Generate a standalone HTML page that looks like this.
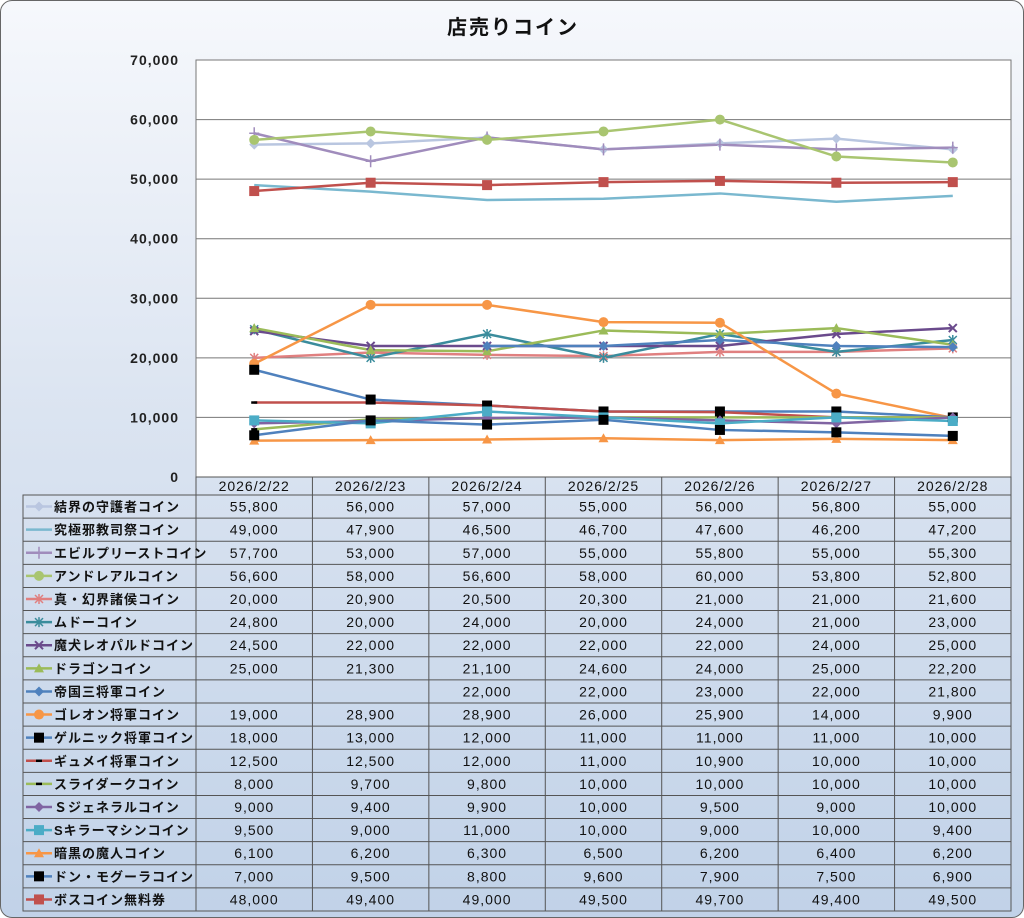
<!DOCTYPE html>
<html><head><meta charset="utf-8"><style>
html,body{margin:0;padding:0;background:#fff;}
#c{position:relative;width:1022px;height:916px;border:1px solid #666;border-radius:12px;overflow:hidden;
background:linear-gradient(to bottom,#f6f8fc 0%,#dbe4f1 45%,#c1d2e8 100%);font-family:"Liberation Sans","Noto Sans CJK JP",sans-serif;}
#t{position:absolute;top:10px;left:0;width:1024px;text-align:center;font-size:20px;font-weight:bold;color:#111;letter-spacing:2px}
svg{position:absolute;left:0;top:0}
</style></head><body><div id="c"><div id="t">店売りコイン</div>
<svg id="s" width="1024" height="918"></svg></div>
<script>
const names=["結界の守護者コイン","究極邪教司祭コイン","エビルプリーストコイン","アンドレアルコイン","真・幻界諸侯コイン","ムドーコイン","魔犬レオパルドコイン","ドラゴンコイン","帝国三将軍コイン","ゴレオン将軍コイン","ゲルニック将軍コイン","ギュメイ将軍コイン","スライダークコイン","Ｓジェネラルコイン","Sキラーマシンコイン","暗黒の魔人コイン","ドン・モグーラコイン","ボスコイン無料券"];
const d=[[55800,56000,57000,55000,56000,56800,55000],[49000,47900,46500,46700,47600,46200,47200],[57700,53000,57000,55000,55800,55000,55300],[56600,58000,56600,58000,60000,53800,52800],[20000,20900,20500,20300,21000,21000,21600],[24800,20000,24000,20000,24000,21000,23000],[24500,22000,22000,22000,22000,24000,25000],[25000,21300,21100,24600,24000,25000,22200],[null,null,22000,22000,23000,22000,21800],[19000,28900,28900,26000,25900,14000,9900],[18000,13000,12000,11000,11000,11000,10000],[12500,12500,12000,11000,10900,10000,10000],[8000,9700,9800,10000,10000,10000,10000],[9000,9400,9900,10000,9500,9000,10000],[9500,9000,11000,10000,9000,10000,9400],[6100,6200,6300,6500,6200,6400,6200],[7000,9500,8800,9600,7900,7500,6900],[48000,49400,49000,49500,49700,49400,49500]];
const col=["#b9c6e0","#7ab8cf","#a08cbc","#a9c570","#e08080","#3a8c9c","#6a4a8c","#9bbb59","#4f81bd","#f79646","#4f81bd","#c0504d","#9bbb59","#8064a2","#4bacc6","#f79646","#4f81bd","#c0504d"];
const mk=["dia","none","plus","circ","ast","ast","x","tri","dia","circ","bsq","dash","dash","dia","sq","tri","bsq","sq"];
const dates=["2026/2/22","2026/2/23","2026/2/24","2026/2/25","2026/2/26","2026/2/27","2026/2/28"];
const L=195,R=1010,T=59,B=476,cw=(R-L)/7,rh=(910-494)/18;
const X=i=>L+cw*(i+.5),Y=v=>B-v/70000*(B-T);
let h=`<rect x="${L}" y="${T}" width="${R-L}" height="${B-T}" fill="#fff" stroke="#777"/>`;
for(let k=1;k<7;k++){let y=Y(k*10000);h+=`<line x1="${L}" x2="${R}" y1="${y}" y2="${y}" stroke="#777"/>`}
for(let k=0;k<=7;k++)h+=`<text x="178" y="${Y(k*10000)+5}" text-anchor="end" font-size="14" font-weight="bold" fill="#222" letter-spacing="1">${k?(k*10)+",000":"0"}</text>`;
function marker(t,x,y,c){switch(t){
case"dia":return`<path d="M${x} ${y-5}L${x+5} ${y}L${x} ${y+5}L${x-5} ${y}Z" fill="${c}"/>`;
case"circ":return`<circle cx="${x}" cy="${y}" r="5" fill="${c}"/>`;
case"sq":return`<rect x="${x-5}" y="${y-5}" width="10" height="10" fill="${c}"/>`;
case"bsq":return`<rect x="${x-5}" y="${y-5}" width="10" height="10" fill="#000"/>`;
case"tri":return`<path d="M${x} ${y-5}L${x+5} ${y+4}L${x-5} ${y+4}Z" fill="${c}"/>`;
case"plus":return`<path d="M${x-5} ${y}H${x+5}M${x} ${y-6}V${y+6}" stroke="${c}" stroke-width="1.5"/>`;
case"x":return`<path d="M${x-4} ${y-4}L${x+4} ${y+4}M${x+4} ${y-4}L${x-4} ${y+4}" stroke="${c}" stroke-width="2"/>`;
case"ast":return`<path d="M${x-4} ${y-4}L${x+4} ${y+4}M${x+4} ${y-4}L${x-4} ${y+4}M${x} ${y-5}V${y+5}" stroke="${c}" stroke-width="1.5"/>`;
case"dash":return`<path d="M${x-3} ${y}H${x+3}" stroke="#000" stroke-width="2.5"/>`;
}return""}
d.forEach((s,j)=>{let p=[];s.forEach((v,i)=>{if(v!=null)p.push(X(i)+","+Y(v))});
h+=`<polyline points="${p.join(" ")}" fill="none" stroke="${col[j]}" stroke-width="2.5"/>`;});
d.forEach((s,j)=>s.forEach((v,i)=>{if(v!=null)h+=marker(mk[j],X(i),Y(v),col[j])}));
h+=`<g stroke="#555" stroke-width="1" fill="none"><rect x="${L}" y="${B}" width="${R-L}" height="18"/><rect x="22" y="494" width="${R-22}" height="${910-494}"/>`;
for(let i=1;i<7;i++)h+=`<line x1="${L+cw*i}" x2="${L+cw*i}" y1="${B}" y2="910"/>`;
h+=`<line x1="${L}" x2="${L}" y1="${B}" y2="910"/>`;
for(let r=1;r<18;r++)h+=`<line x1="22" x2="${R}" y1="${494+rh*r}" y2="${494+rh*r}"/>`;
h+=`</g>`;
dates.forEach((t,i)=>h+=`<text x="${X(i)}" y="${B+14}" text-anchor="middle" font-size="14" fill="#111" letter-spacing="1">${t}</text>`);
d.forEach((s,j)=>{let cy=494+rh*j+rh/2;
h+=`<line x1="25" x2="51" y1="${cy}" y2="${cy}" stroke="${col[j]}" stroke-width="2.5"/>`+marker(mk[j],38,cy,col[j]);
h+=`<text x="53" y="${cy+5}" font-size="13" font-weight="bold" fill="#111" letter-spacing="1">${names[j]}</text>`;
s.forEach((v,i)=>{if(v!=null)h+=`<text x="${X(i)}" y="${cy+5}" text-anchor="middle" font-size="14" fill="#111" letter-spacing="1">${v.toLocaleString("en-US")}</text>`});});
document.getElementById("s").innerHTML=h;
</script></body></html>
